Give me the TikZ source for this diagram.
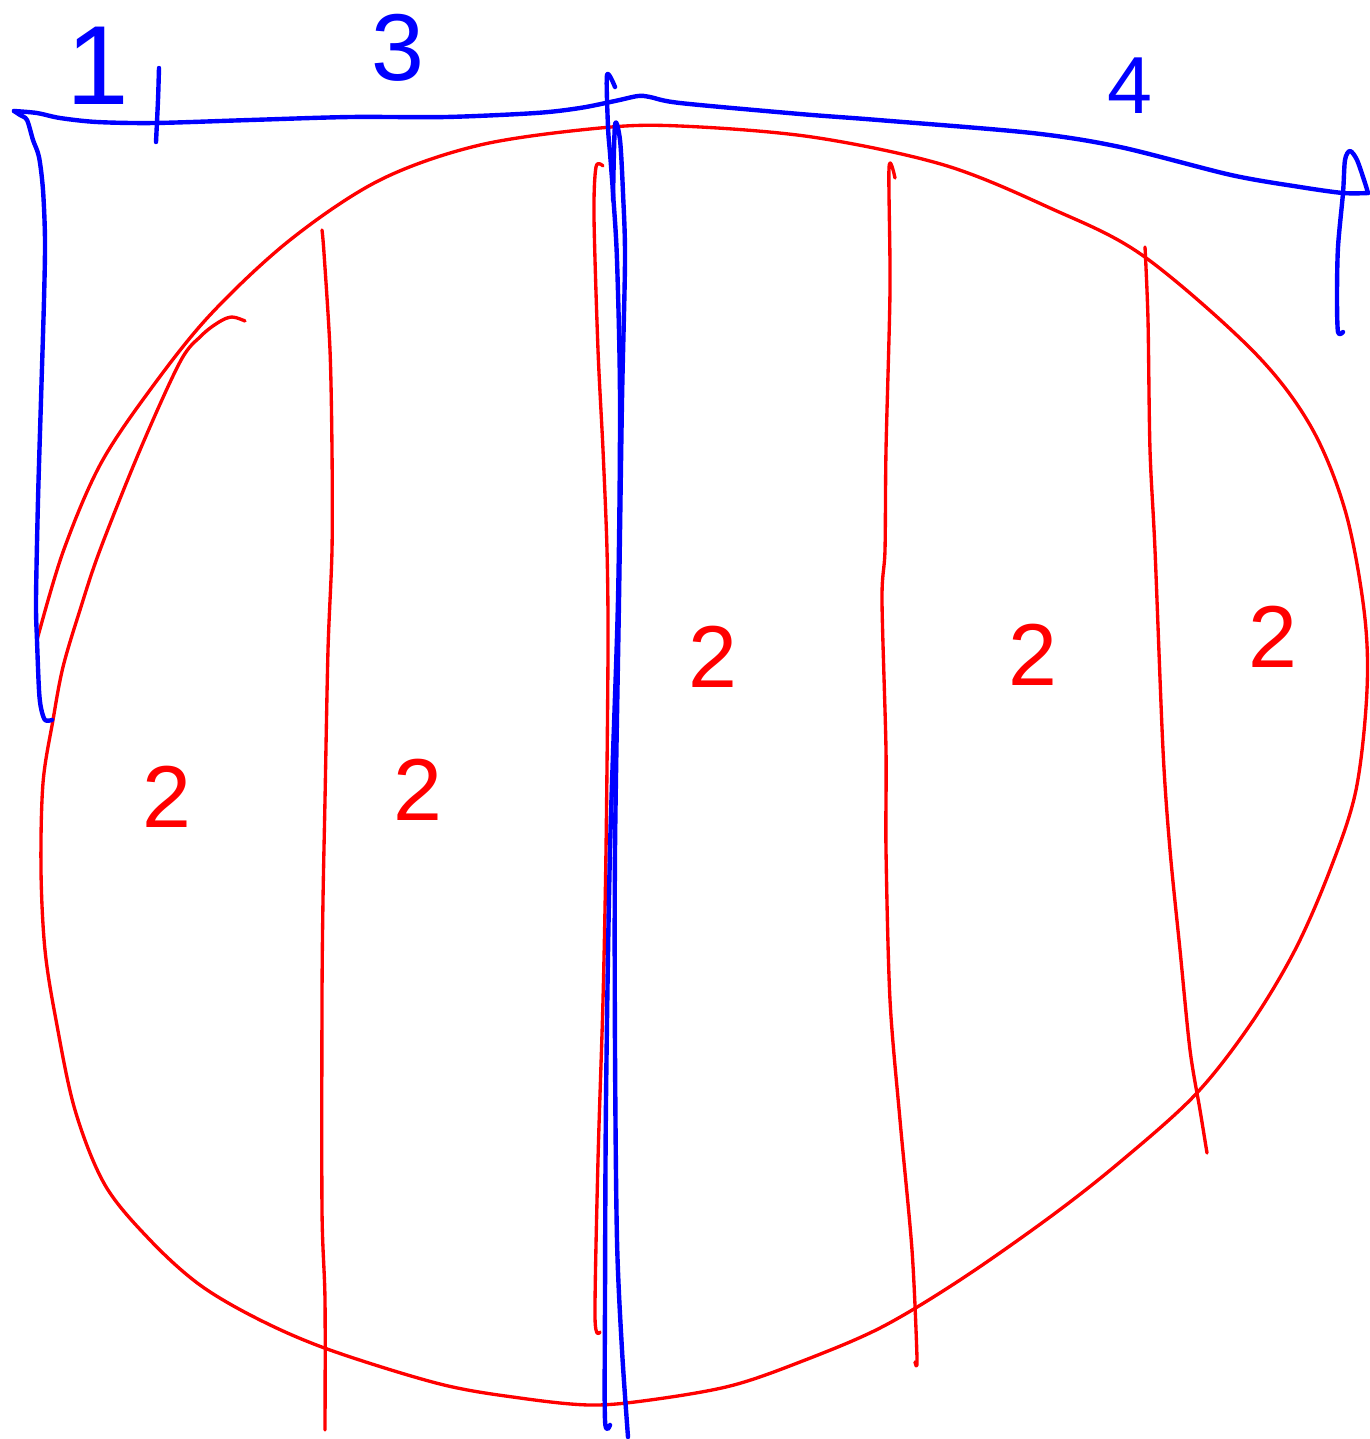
\documentclass[tikz,border=0pt]{standalone}
\usepackage{xcolor}
\usepackage{fontspec}
\setmainfont{Liberation Sans}
\usepackage{tikz}

\begin{document}
\begin{tikzpicture}[x=0.01cm, y=-0.01cm,
    redpen/.style={draw=red, line width=0.95pt, line cap=round, line join=round},
    bluepen/.style={draw=blue, line width=1.25pt, line cap=round, line join=round},
    handnum/.style={inner sep=0pt, font=\fontsize{25}{25}\selectfont},
    rednum/.style={handnum, text=red},
    bluenum/.style={handnum, text=blue}]
\useasboundingbox (0,0) rectangle (1370,1439);

\draw[redpen] plot[smooth, tension=0.55] coordinates {(37,640) (63,552) (100,465) (150,390) (210,315) (290,240) (380,180) (480,145) (600,128) (680,126) (812,137) (944,165) (1050,208) (1142,255) (1252,350) (1310,425) (1345,510) (1364,610) (1367,690) (1356,790) (1330,870) (1295,950) (1250,1025) (1195,1095) (1120,1162) (1050,1217) (960,1280) (880,1328) (800,1362) (730,1386) (650,1400) (590,1405) (520,1398) (440,1384) (330,1350) (260,1320) (200,1285) (150,1240) (105,1185) (75,1110) (56,1020) (45,950) (41,870) (43,783) (53,720) (63,667) (80,610) (100,550) (140,450) (180,362) (201,336) (219,322) (232,317) (245,321)};

\draw[redpen] plot[smooth, tension=0.5] coordinates {(322,230) (324,253) (330,350) (332,450) (332,550) (328,650) (325,800) (323,900) (322,1000) (322,1210) (325,1300) (325,1430)};
\draw[redpen] plot[smooth, tension=0.5] coordinates {(603,166) (596,167) (594,217) (598,350) (603,450) (607,550) (608,650) (606,850) (603,1000) (598,1160) (595,1317) (600,1332)};
\draw[redpen] plot[smooth, tension=0.5] coordinates {(895,178) (889,168) (890,290) (886,450) (885,550) (882,600) (886,750) (886,850) (890,1000) (900,1120) (912,1250) (917,1358) (915,1362)};
\draw[redpen] plot[smooth, tension=0.5] coordinates {(1145,247) (1148,320) (1150,450) (1155,550) (1163,750) (1170,850) (1180,950) (1190,1050) (1200,1110) (1207,1153)};

\draw[bluepen] plot[smooth, tension=0.5] coordinates {(52,720) (45,720) (41,708) (39,690) (37,640) (36,600) (38,500) (41,400) (44,300) (45,240) (43,190) (39,157) (33,140) (27,120) (20,115) (14,111)};
\draw[bluepen] plot[smooth, tension=0.5] coordinates {(14,111) (37,113) (60,118) (97,122) (155,123) (250,120) (350,117) (446,117) (536,113) (580,108) (615,101) (638,96) (650,97) (680,103) (800,114) (878,120) (1032,133) (1120,147) (1231,175) (1300,187) (1343,193) (1368,193)};
\draw[bluepen] plot[smooth, tension=0.5] coordinates {(1368,193) (1365,183) (1357,160) (1350,151) (1345,160) (1343,193) (1338,247) (1337,297) (1338,332) (1343,332)};

\draw[bluepen] plot[smooth, tension=0.5] coordinates {(159,68) (158,100) (156,142)};
\draw[bluepen] plot[smooth, tension=0.5] coordinates {(615,87) (607,75) (608,127) (610,153) (613,193) (617,260) (620,400) (618,600) (610,850) (606,1100) (605,1300) (605,1420) (610,1425)};
\draw[bluepen] plot[smooth, tension=0.5] coordinates {(613,200) (615,125) (620,140) (623,193) (625,260) (622,400) (619,600) (615,850) (615,1050) (617,1240) (622,1350) (628,1437)};

\node[bluenum, font=\fontsize{32}{32}\selectfont] (lblone) at (98,66) {1};
\node[bluenum, font=\fontsize{27}{27}\selectfont] (lblthree) at (398,48) {3};
\node[bluenum, font=\fontsize{23}{23}\selectfont] (lblfour) at (1130,86) {4};

\node[rednum] (twoa) at (167,797) {2};
\node[rednum] (twob) at (418,790) {2};
\node[rednum] (twoc) at (713,657) {2};
\node[rednum] (twod) at (1033,655) {2};
\node[rednum] (twoe) at (1273,637) {2};
\end{tikzpicture}
\end{document}
